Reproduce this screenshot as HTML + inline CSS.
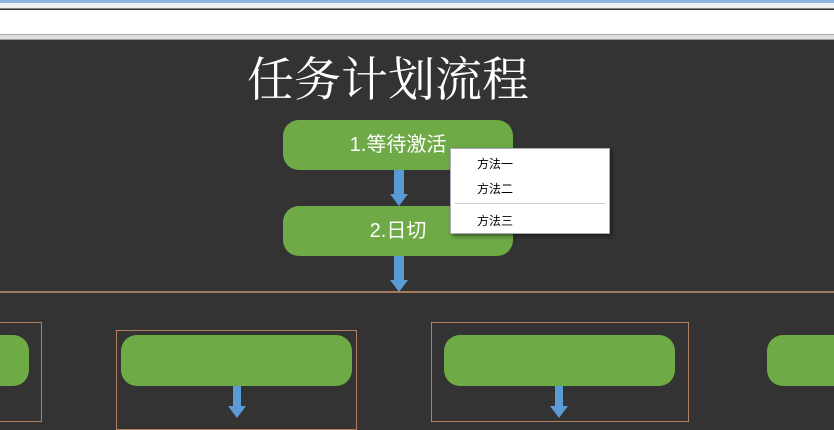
<!DOCTYPE html>
<html><head><meta charset="utf-8"><style>
*{margin:0;padding:0;box-sizing:border-box}
body{width:834px;height:414px;overflow:hidden;background:#333;position:relative;font-family:"Liberation Sans","Noto Sans CJK SC",sans-serif}
.a{position:absolute}
.g{position:absolute;background:#6eaa46;border-radius:16px;color:#fff;font-size:20px;text-align:center}
.f{position:absolute;border:1px solid #b08060}
.s{position:absolute;background:#5b9bd5}
.h{position:absolute;width:0;height:0;border-left:9px solid transparent;border-right:9px solid transparent;border-top:12px solid #5b9bd5}
</style></head><body>
<div class="a" style="left:0;top:0;width:834px;height:3px;background:#8ab6e0"></div>
<div class="a" style="left:0;top:3px;width:834px;height:6px;background:#f0f0f0;border-bottom:1px solid #888"></div>
<div class="a" style="left:0;top:10px;width:834px;height:24px;background:#fff"></div>
<div class="a" style="left:0;top:34px;width:834px;height:6px;background:#e0e0e0;border-top:1px solid #aaa;border-bottom:1px solid #999"></div>
<div class="a" style="left:0;top:52px;width:776px;text-align:center;color:#fff;font-family:'Liberation Serif','Noto Serif CJK SC',serif;font-size:47px;line-height:58px">任务计划流程</div>
<div class="g" style="left:283px;top:120px;width:230px;height:50px;line-height:50px">1.等待激活</div>
<div class="s" style="left:394px;top:170px;width:10px;height:24px"></div>
<div class="h" style="left:390px;top:194px"></div>
<div class="g" style="left:283px;top:206px;width:230px;height:50px;line-height:50px">2.日切</div>
<div class="s" style="left:394px;top:256px;width:10px;height:24px"></div>
<div class="h" style="left:390px;top:280px"></div>
<div class="a" style="left:0;top:291px;width:834px;height:2px;background:#a07a5a"></div>
<div class="f" style="left:-2px;top:322px;width:44px;height:100px"></div>
<div class="g" style="left:-20px;top:335px;width:49px;height:51px"></div>
<div class="f" style="left:116px;top:330px;width:241px;height:100px"></div>
<div class="g" style="left:121px;top:335px;width:231px;height:51px"></div>
<div class="s" style="left:233px;top:386px;width:8px;height:20px"></div>
<div class="h" style="left:228px;top:406px"></div>
<div class="f" style="left:431px;top:322px;width:258px;height:100px"></div>
<div class="g" style="left:444px;top:335px;width:231px;height:51px"></div>
<div class="s" style="left:555px;top:386px;width:8px;height:20px"></div>
<div class="h" style="left:550px;top:406px"></div>
<div class="g" style="left:767px;top:335px;width:100px;height:51px"></div>
<div class="a" style="left:450px;top:148px;width:160px;height:86px;background:#fff;border:1px solid #aab;box-shadow:2px 2px 4px rgba(0,0,0,.5);font-size:12px;color:#000">
<div class="a" style="left:26px;top:6px">方法一</div>
<div class="a" style="left:26px;top:31px">方法二</div>
<div class="a" style="left:4px;top:54px;width:150px;height:1px;background:#ccc"></div>
<div class="a" style="left:26px;top:63px">方法三</div>
</div>
</body></html>
